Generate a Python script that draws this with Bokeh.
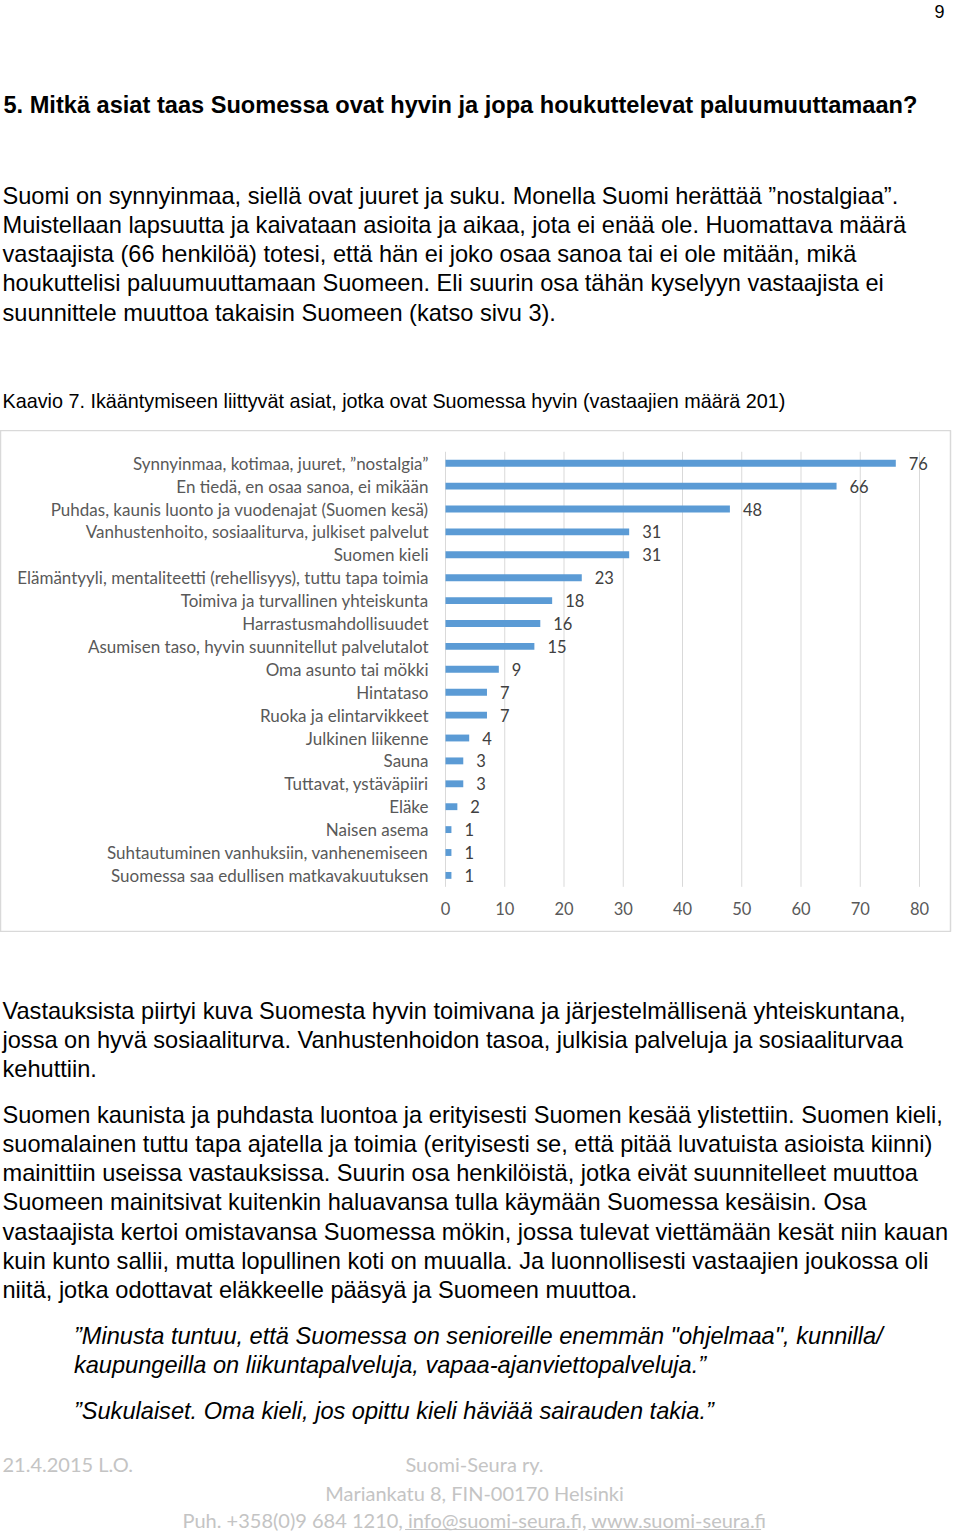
from bokeh.plotting import figure
from bokeh.layouts import column
from bokeh.models import Range1d, ColumnDataSource
from bokeh.core.properties import value
from bokeh.embed import file_html
from bokeh.resources import INLINE

# ---------------- data / texts ----------------
page_number = "9"
title = "5. Mitkä asiat taas Suomessa ovat hyvin ja jopa houkuttelevat paluumuuttamaan?"
intro_lines = [
    "Suomi on synnyinmaa, siellä ovat juuret ja suku. Monella Suomi herättää ”nostalgiaa”.",
    "Muistellaan lapsuutta ja kaivataan asioita ja aikaa, jota ei enää ole. Huomattava määrä",
    "vastaajista (66 henkilöä) totesi, että hän ei joko osaa sanoa tai ei ole mitään, mikä",
    "houkuttelisi paluumuuttamaan Suomeen. Eli suurin osa tähän kyselyyn vastaajista ei",
    "suunnittele muuttoa takaisin Suomeen (katso sivu 3).",
]
caption = "Kaavio 7. Ikääntymiseen liittyvät asiat, jotka ovat Suomessa hyvin (vastaajien määrä 201)"

categories = [
    "Synnyinmaa, kotimaa, juuret, ”nostalgia”",
    "En tiedä, en osaa sanoa, ei mikään",
    "Puhdas, kaunis luonto ja vuodenajat (Suomen kesä)",
    "Vanhustenhoito, sosiaaliturva, julkiset palvelut",
    "Suomen kieli",
    "Elämäntyyli, mentaliteetti (rehellisyys), tuttu tapa toimia",
    "Toimiva ja turvallinen yhteiskunta",
    "Harrastusmahdollisuudet",
    "Asumisen taso, hyvin suunnitellut palvelutalot",
    "Oma asunto tai mökki",
    "Hintataso",
    "Ruoka ja elintarvikkeet",
    "Julkinen liikenne",
    "Sauna",
    "Tuttavat, ystäväpiiri",
    "Eläke",
    "Naisen asema",
    "Suhtautuminen vanhuksiin, vanhenemiseen",
    "Suomessa saa edullisen matkavakuutuksen",
]
counts = [76, 66, 48, 31, 31, 23, 18, 16, 15, 9, 7, 7, 4, 3, 3, 2, 1, 1, 1]
ticks = [0, 10, 20, 30, 40, 50, 60, 70, 80]

para2_lines = [
    "Vastauksista piirtyi kuva Suomesta hyvin toimivana ja järjestelmällisenä yhteiskuntana,",
    "jossa on hyvä sosiaaliturva. Vanhustenhoidon tasoa, julkisia palveluja ja sosiaaliturvaa",
    "kehuttiin.",
]
para3_lines = [
    "Suomen kaunista ja puhdasta luontoa ja erityisesti Suomen kesää ylistettiin. Suomen kieli,",
    "suomalainen tuttu tapa ajatella ja toimia (erityisesti se, että pitää luvatuista asioista kiinni)",
    "mainittiin useissa vastauksissa. Suurin osa henkilöistä, jotka eivät suunnitelleet muuttoa",
    "Suomeen mainitsivat kuitenkin haluavansa tulla käymään Suomessa kesäisin. Osa",
    "vastaajista kertoi omistavansa Suomessa mökin, jossa tulevat viettämään kesät niin kauan",
    "kuin kunto sallii, mutta lopullinen koti on muualla. Ja luonnollisesti vastaajien joukossa oli",
    "niitä, jotka odottavat eläkkeelle pääsyä ja Suomeen muuttoa.",
]
quote_lines = [
    "”Minusta tuntuu, että Suomessa on senioreille enemmän \"ohjelmaa\", kunnilla/",
    "kaupungeilla on liikuntapalveluja, vapaa-ajanviettopalveluja.”",
    "”Sukulaiset. Oma kieli, jos opittu kieli häviää sairauden takia.”",
]
footer_date = "21.4.2015 L.O."
footer_center = [
    "Suomi-Seura ry.",
    "Mariankatu 8, FIN-00170 Helsinki",
    "Puh. +358(0)9 684 1210, info@suomi-seura.fi, www.suomi-seura.fi",
]

# ---------------- styling ----------------
W = 958
BODY_FONT = value("Liberation Sans")
BODY_SIZE = "23.6px"
LINE = 29.3
CHART_FONT = value("Lato")
FOOT_FONT = value("Lato")
FOOT_COLOR = "#c4c4c4"


def page_fig(height, y_top, y_bottom):
    p = figure(width=W, height=height, x_range=Range1d(0, W),
               y_range=Range1d(y_bottom, y_top), toolbar_location=None,
               output_backend="svg", min_border=0, x_axis_location=None,
               y_axis_location=None, outline_line_color=None)
    p.grid.visible = False
    return p


def body(p, x, y0, lines, **kw):
    ys = [y0 + LINE * i for i in range(len(lines))]
    p.text(x=[x] * len(lines), y=ys, text=lines, text_font=BODY_FONT,
           text_font_size=BODY_SIZE, text_color="black",
           text_baseline="middle", text_align="left", **kw)


# ---------------- header ----------------
HEAD_H = 430
head = page_fig(HEAD_H, 0, HEAD_H)
head.text(x=[952], y=[11], text=[page_number], text_font=BODY_FONT,
          text_font_size="18px", text_color="black", text_baseline="middle",
          text_align="right")
head.text(x=[3], y=[104], text=[title], text_font=BODY_FONT, text_font_size="23.6px",
          text_font_style="bold", text_color="black", text_baseline="middle")
body(head, 2, 195, intro_lines)
head.text(x=[2], y=[400], text=[caption], text_font=BODY_FONT, text_font_size="19.8px",
          text_color="black", text_baseline="middle")

# ---------------- chart ----------------
PX_PER_UNIT = 5.925
ZERO_X = 445
FRAME_W = 950
ROW0 = 462.7
ROW_H = 22.9
CH_TOP, CH_H = HEAD_H, 502
chart = figure(width=W, height=CH_H,
               x_range=Range1d(-ZERO_X / PX_PER_UNIT, (FRAME_W - ZERO_X) / PX_PER_UNIT),
               y_range=Range1d((CH_TOP + CH_H - ROW0) / ROW_H, (CH_TOP - ROW0) / ROW_H),
               toolbar_location=None, output_backend="svg", min_border=0,
               min_border_right=W - FRAME_W,
               x_axis_location=None, y_axis_location=None,
               outline_line_color="#d9d9d9", outline_line_width=1.5)
chart.grid.visible = False

n = len(categories)
src = ColumnDataSource(dict(cat=categories, cnt=counts, row=list(range(n)),
                            lab=[str(v) for v in counts]))
chart.segment(x0=ticks, x1=ticks, y0=[-0.5] * len(ticks), y1=[n - 0.5] * len(ticks),
              line_color="#d9d9d9", line_width=1)
chart.hbar(y="row", left=0, right="cnt", height=0.3, fill_color="#5B9BD5",
           line_color=None, source=src)
chart.text(x=0, y="row", text="cat", x_offset=-17, text_align="right",
           text_baseline="middle", text_font=CHART_FONT, text_font_size="17px",
           text_color="#595959", source=src)
chart.text(x="cnt", y="row", text="lab", x_offset=13, text_align="left",
           text_baseline="middle", text_font=CHART_FONT, text_font_size="16.5px",
           text_color="#404040", source=src)
chart.text(x=ticks, y=[n + 0.45] * len(ticks), text=[str(t) for t in ticks],
           text_align="center", text_baseline="middle", text_font=CHART_FONT,
           text_font_size="16.5px", text_color="#595959")

# ---------------- footer ----------------
FOOT_TOP = CH_TOP + CH_H
FOOT_H = 1531 - FOOT_TOP
foot = page_fig(FOOT_H, FOOT_TOP, FOOT_TOP + FOOT_H)
body(foot, 2, 1010, para2_lines)
body(foot, 2, 1114, para3_lines)
body(foot, 74, 1335, quote_lines[:2], text_font_style="italic")
body(foot, 74, 1410, quote_lines[2:], text_font_style="italic")
foot.text(x=[2], y=[1463], text=[footer_date], text_font=FOOT_FONT, text_font_size="20px",
          text_color=FOOT_COLOR, text_baseline="middle", text_align="left")
foot.text(x=[478] * 3, y=[1463, 1492, 1519], text=footer_center, text_font=FOOT_FONT,
          text_font_size="20px", text_color=FOOT_COLOR, text_baseline="middle",
          text_align="center")
foot.segment(x0=[408, 593], x1=[582, 767], y0=[1529, 1529], y1=[1529, 1529],
             line_color=FOOT_COLOR, line_width=1)

layout = column(head, chart, foot, spacing=0)
open("out.html", "w").write(file_html(layout, INLINE))
